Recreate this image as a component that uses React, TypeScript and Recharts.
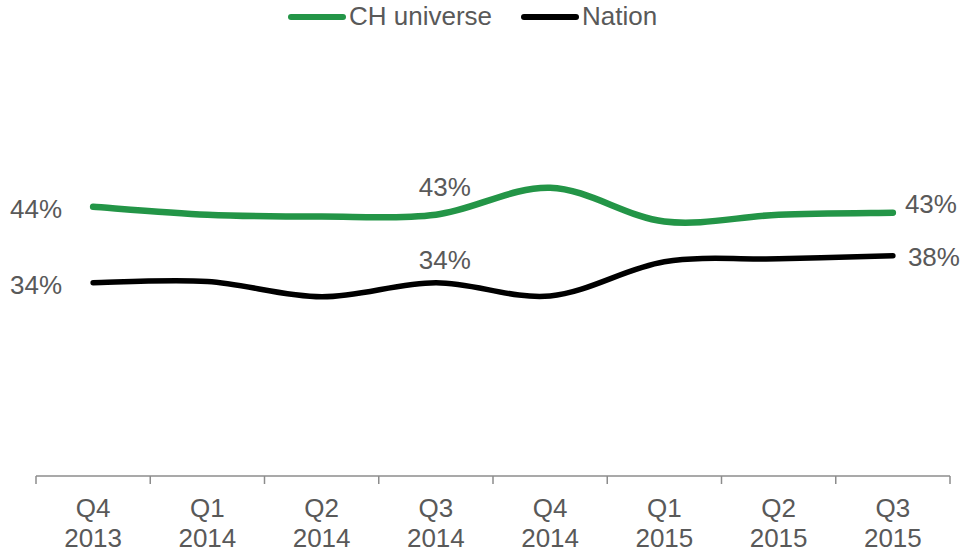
import React from "react";
import { LineChart, Line, XAxis, YAxis, Legend } from "recharts";

const quarters = ["Q4", "Q1", "Q2", "Q3", "Q4", "Q1", "Q2", "Q3"];
const years = ["2013", "2014", "2014", "2014", "2014", "2015", "2015", "2015"];
const chUniverse = [44.05, 43.0, 42.75, 43.0, 46.55, 42.1, 43.0, 43.26];
const nation = [34.05, 34.2, 32.2, 34.05, 32.3, 36.8, 37.2, 37.6];
const labelledPoints = [0, 3, 7];

const data = quarters.map((q, i) => ({
  name: `${q} ${years[i]}`,
  quarter: q,
  year: years[i],
  ch: chUniverse[i],
  nation: nation[i],
}));

const WIDTH = 961;
const HEIGHT = 551;
// legend height (~31px) is added on top of margin.top by recharts
const MARGIN = { top: 126, right: 11, bottom: 5, left: 36 };
const BAND = (WIDTH - MARGIN.left - MARGIN.right) / quarters.length;
const FONT = "'Liberation Sans', Arial, sans-serif";
const INK = "#595959";
const GREEN = "#239547";

// smoothing like the office "smoothed line" (catmull-rom as bezier)
const smoothCurve = (context: any) => {
  let pts: number[][] = [];
  return {
    areaStart() {},
    areaEnd() {},
    lineStart() {
      pts = [];
    },
    point(x: number, y: number) {
      pts.push([+x, +y]);
    },
    lineEnd() {
      if (!pts.length) return;
      context.moveTo(pts[0][0], pts[0][1]);
      for (let i = 0; i < pts.length - 1; i++) {
        const p0 = pts[i - 1] || pts[i];
        const p1 = pts[i];
        const p2 = pts[i + 1];
        const p3 = pts[i + 2] || p2;
        context.bezierCurveTo(
          p1[0] + (p2[0] - p0[0]) / 6,
          p1[1] + (p2[1] - p0[1]) / 6,
          p2[0] - (p3[0] - p1[0]) / 6,
          p2[1] - (p3[1] - p1[1]) / 6,
          p2[0],
          p2[1]
        );
      }
    },
  };
};

const makeLabel = (midDy: number, endDy: number, endDx: number) => (props: any) => {
  const { x, y, value, index } = props;
  if (!labelledPoints.includes(index)) return null;
  const text = `${Math.round(value)}%`;
  let tx = x;
  let ty = y;
  let anchor: "start" | "middle" | "end" = "middle";
  if (index === 0) {
    tx = x - 31;
    ty = y + 2;
    anchor = "end";
  } else if (index === quarters.length - 1) {
    tx = x + endDx;
    ty = y + endDy;
    anchor = "start";
  } else {
    tx = x + 9;
    ty = y + midDy;
  }
  return (
    <text key={`l-${index}`} x={tx} y={ty} dy="0.35em" textAnchor={anchor} fill={INK} fontSize={26} fontFamily={FONT}>
      {text}
    </text>
  );
};

const QuarterTick = (props: any) => {
  const { x, y, index } = props;
  const last = index === quarters.length - 1;
  return (
    <g>
      <line x1={x - BAND / 2} x2={x - BAND / 2} y1={y} y2={y + 8} stroke="#8c8c8c" strokeWidth={1.5} />
      {last && <line x1={x + BAND / 2} x2={x + BAND / 2} y1={y} y2={y + 8} stroke="#8c8c8c" strokeWidth={1.5} />}
      <text x={x} y={y + 41} textAnchor="middle" fill={INK} fontSize={26} fontFamily={FONT}>
        {quarters[index]}
      </text>
      <text x={x} y={y + 71} textAnchor="middle" fill={INK} fontSize={26} fontFamily={FONT}>
        {years[index]}
      </text>
    </g>
  );
};

const LegendContent = (props: any) => {
  const { payload } = props;
  return (
    <div style={{ display: "flex", alignItems: "center", fontFamily: FONT, fontSize: 26, color: INK }}>
      {(payload || []).map((p: any, i: number) => (
        <div key={i} style={{ display: "flex", alignItems: "center", marginRight: i === 0 ? 29 : 0 }}>
          <svg width={58} height={10} style={{ marginRight: 3 }}>
            <line x1={3} x2={55} y1={5} y2={5} stroke={p.color} strokeWidth={6} strokeLinecap="round" />
          </svg>
          <span>{p.value}</span>
        </div>
      ))}
    </div>
  );
};

export default function App() {
  return (
    <div style={{ position: "absolute", left: 0, top: 0, background: "#fff" }}>
      <LineChart width={WIDTH} height={HEIGHT} data={data} margin={MARGIN}>
        <XAxis
          dataKey="name"
          axisLine={{ stroke: "#8c8c8c", strokeWidth: 1.5 }}
          tickLine={false}
          tickSize={0}
          tickMargin={0}
          height={70}
          interval={0}
          padding={{ left: BAND / 2, right: BAND / 2 }}
          tick={<QuarterTick />}
        />
        <YAxis hide domain={[8.6, 50.6]} />
        <Legend
          layout="vertical"
          verticalAlign="top"
          align="center"
          wrapperStyle={{ top: 1, left: 288, width: 400 }}
          content={<LegendContent />}
        />
        <Line
          dataKey="ch"
          name="CH universe"
          stroke={GREEN}
          strokeWidth={6.5}
          strokeLinecap="round"
          type={smoothCurve as any}
          dot={false}
          activeDot={false}
          isAnimationActive={false}
          label={makeLabel(-28, -9, 12)}
        />
        <Line
          dataKey="nation"
          name="Nation"
          stroke="#000000"
          strokeWidth={5.5}
          strokeLinecap="round"
          type={smoothCurve as any}
          dot={false}
          activeDot={false}
          isAnimationActive={false}
          label={makeLabel(-23, 1, 15)}
        />
      </LineChart>
    </div>
  );
}
